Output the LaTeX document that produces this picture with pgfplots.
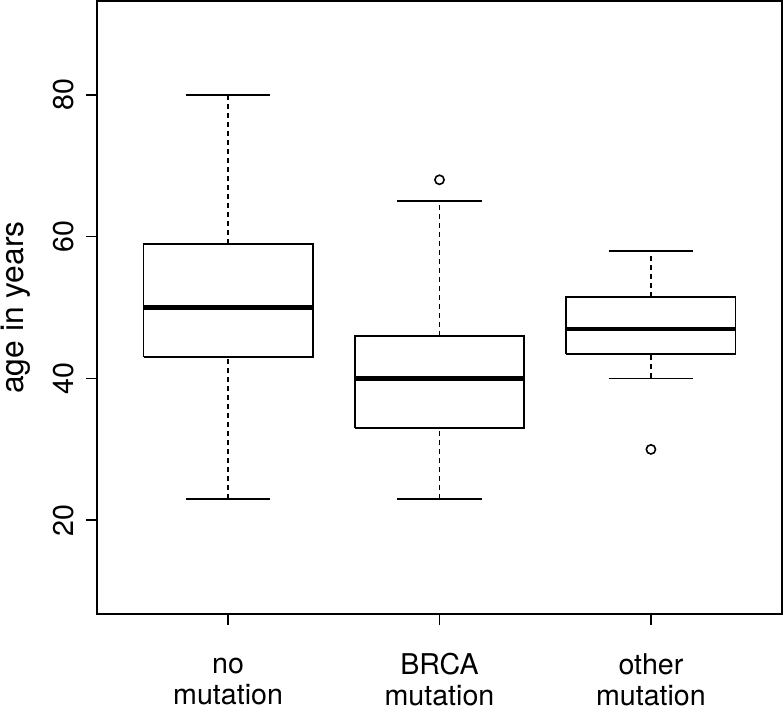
\documentclass[border=0pt]{standalone}
\usepackage{pgfplots}
\pgfplotsset{compat=1.18}
\usepackage{fontspec}
\setmainfont{TeX Gyre Heros}

\begin{document}
\fontsize{14.3}{14.35}\selectfont
\begin{tikzpicture}
\begin{axis}[
    scale only axis,
    width=342.5pt, height=306.5pt,
    xmin=0.38, xmax=3.62, ymin=6.8, ymax=93.2,
    axis line style={line width=0.9pt},
    xtick={1,2,3},
    xticklabels={\strut no\\mutation, \strut BRCA\\mutation, \strut other\\mutation},
    xticklabel style={align=center, anchor=north, inner sep=0pt,
        font=\fontsize{14.3}{14.35}\selectfont},
    xticklabel shift=14pt,
    ytick={20,40,60,80},
    yticklabel style={rotate=90, anchor=south, inner sep=0pt,
        font=\fontsize{14.3}{14.35}\selectfont},
    yticklabel shift=6pt,
    /pgf/number format/assume math mode=true,
    tick align=outside, tick pos=left,
    major tick length=5.5pt,
    every tick/.style={black, line width=0.9pt},
    ylabel={age in years},
    ylabel style={at={(axis description cs:-0.118,0.5)}, anchor=center,
        inner sep=0pt, font=\fontsize{15.9}{17}\selectfont},
    unbounded coords=jump,
]
% boxes (Q1..Q3, width 0.8)
\addplot[black, line width=0.9pt, line join=miter] coordinates {
    (0.6,43) (1.4,43) (1.4,59) (0.6,59) (0.6,43) (nan,nan)
    (1.6,33) (2.4,33) (2.4,46) (1.6,46) (1.6,33) (nan,nan)
    (2.6,43.5) (3.4,43.5) (3.4,51.5) (2.6,51.5) (2.6,43.5)
};
% whisker caps (width 0.4)
\addplot[black, line width=0.9pt] coordinates {
    (0.8,23) (1.2,23) (nan,nan) (0.8,80) (1.2,80) (nan,nan)
    (1.8,23) (2.2,23) (nan,nan) (1.8,65) (2.2,65) (nan,nan)
    (2.8,40) (3.2,40) (nan,nan) (2.8,58) (3.2,58)
};
% whiskers, dashed
\addplot[black, line width=0.9pt, dash pattern=on 2.5pt off 2pt] coordinates {
    (1,23) (1,43) (nan,nan) (1,59) (1,80) (nan,nan)
    (2,23) (2,33) (nan,nan) (2,46) (2,65) (nan,nan)
    (3,40) (3,43.5) (nan,nan) (3,51.5) (3,58)
};
% medians
\addplot[black, line width=2.2pt] coordinates {
    (0.6,50) (1.4,50) (nan,nan)
    (1.6,40) (2.4,40) (nan,nan)
    (2.6,47) (3.4,47)
};
% outliers
\addplot[only marks, mark=o, mark size=2.3pt, mark options={black, line width=0.8pt}]
    coordinates {(2,68) (3,30)};
\coordinate (sw) at (rel axis cs:0,0);
\coordinate (ne) at (rel axis cs:1,1);
\end{axis}
\pgfresetboundingbox
\path[use as bounding box] ([shift={(-48.5pt,-50.5pt)}]sw) rectangle ([shift={(1pt,0.5pt)}]ne);
\end{tikzpicture}
\end{document}
